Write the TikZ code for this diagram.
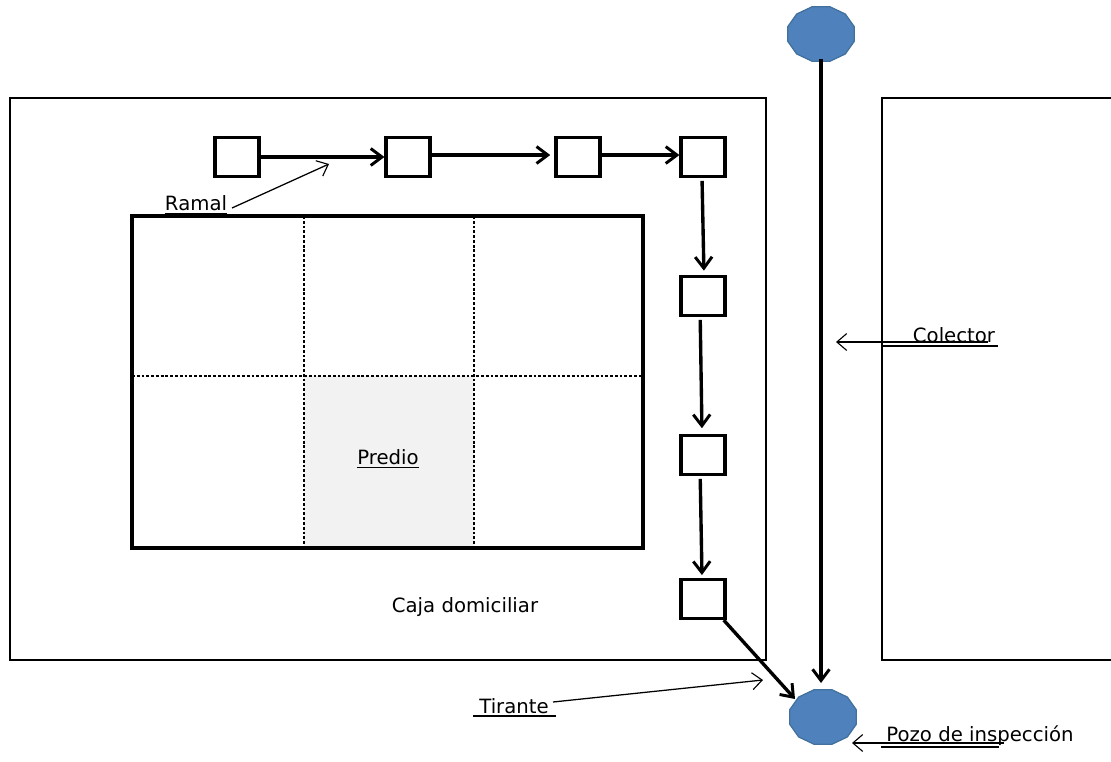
\documentclass[tikz,border=0pt]{standalone}
\usepackage{fontspec}
\setmainfont{DejaVu Sans}
\usetikzlibrary{arrows.meta,shapes.geometric}
\definecolor{pozoblue}{HTML}{4F81BD}
\definecolor{pozoedge}{HTML}{41719C}
\tikzset{
    cajabox/.style={draw, minimum width=1.1cm, minimum height=0.98cm, inner sep=0pt, line width=2.2pt, fill=white},
    pozo/.style={regular polygon, regular polygon sides=12, draw=pozoedge, line width=0.9pt, fill=pozoblue, minimum size=1.72cm, inner sep=0pt, yscale=0.82, transform shape},
    flow/.style={-{Straight Barb[length=8pt,width=12pt,line width=2.1pt]}, line width=2.4pt},
    pointer/.style={-{Straight Barb[length=7pt,width=12pt,line width=0.8pt]}, line width=0.9pt},
    cellline/.style={dash pattern=on 2pt off 1.4pt, line width=0.9pt},
    label/.style={font=\fontsize{14}{17}\selectfont, inner sep=0pt}
}
\begin{document}
\begin{tikzpicture}[x=0.025cm, y=-0.025cm]
    \path[use as bounding box] (0,0) rectangle (1111,762);
    \clip (0,0) rectangle (1111,762);

    % manzana y lote
    \draw[line width=0.75pt] (10,98) rectangle (766,660);
    \draw[line width=0.75pt] (882,98) rectangle (1120,660);
    \fill[black!5] (304,376) rectangle (474,548);
    \draw[cellline] (304,216) -- (304,548);
    \draw[cellline] (474,216) -- (474,548);
    \draw[cellline] (132,376) -- (643,376);
    \draw[line width=2.2pt] (132,216) rectangle (643,548);

    % cajas
    \node[cajabox] (caja1) at (237,157) {};
    \node[cajabox] (caja2) at (408,157) {};
    \node[cajabox] (caja3) at (578,157) {};
    \node[cajabox] (caja4) at (703,157) {};
    \node[cajabox] (caja5) at (703,296) {};
    \node[cajabox] (caja6) at (703,455) {};
    \node[cajabox] (caja7) at (703,599) {};

    % pozos
    \node[pozo] (pozo1) at (821,34) {};
    \node[pozo] (pozo2) at (823,717) {};

    % ramales
    \draw[flow] (caja1) -- (caja2);
    \draw[flow, shorten >=3pt] ([yshift=1.4pt]caja2.east) -- ([yshift=1.4pt]caja3.west);
    \draw[flow] ([yshift=1.4pt]caja3.east) -- ([yshift=1.4pt]caja4.west);
    \draw[flow, shorten <=2pt, shorten >=3pt] ([xshift=-0.7pt]caja4.south) -- ([xshift=0.7pt]caja5.north);
    \draw[flow, shorten <=2pt, shorten >=4pt] ([xshift=-2pt]caja5.south) -- ([xshift=-0.7pt]caja6.north);
    \draw[flow, shorten <=2pt, shorten >=2pt] ([xshift=-2pt]caja6.south) -- ([xshift=-0.7pt]caja7.north);

    % tirante y colector
    \coordinate (tiranteTip) at (795,699);
    \coordinate (colectorTip) at (821,683);
    \draw[flow] ([xshift=-2pt]caja7.south east) -- (tiranteTip);
    \draw[flow, shorten <=-2pt] (pozo1.south) -- (colectorTip);

    % textos
    \node[label] (predio) at (388,459) {\underline{Predio}};
    \node[label] (domic) at (465,607) {Caja domiciliar};
    \node[label] (ramal) at (196,205) {\underline{Ramal}};
    \node[label] (colector) at (954,335) {Colector};
    \node[label] (tirante) at (514,706) {Tirante};
    \node[label] (inspec) at (980,736) {Pozo de inspección};

    % flechas de rotulos
    \coordinate (ramalStart) at (232,208);
    \coordinate (ramalEnd) at (329,164);
    \coordinate (colectorStart) at (988,342);
    \coordinate (colectorEnd) at (836,342);
    \coordinate (tiranteStart) at (553,702);
    \coordinate (tiranteEnd) at (763,680);
    \coordinate (pozoStart) at (1004,743);
    \coordinate (pozoEnd) at (852,743);
    \draw[pointer] (ramalStart) -- (ramalEnd);
    \draw[pointer] (colectorStart) -- (colectorEnd);
    \draw[pointer] (tiranteStart) -- (tiranteEnd);
    \draw[pointer] (pozoStart) -- (pozoEnd);

    % subrayados
    \draw[line width=0.9pt] (882,346) -- (998,346);
    \draw[line width=0.9pt] (473,716) -- (556,716);
    \draw[line width=0.9pt] (881,747) -- (999,747);
\end{tikzpicture}
\end{document}
